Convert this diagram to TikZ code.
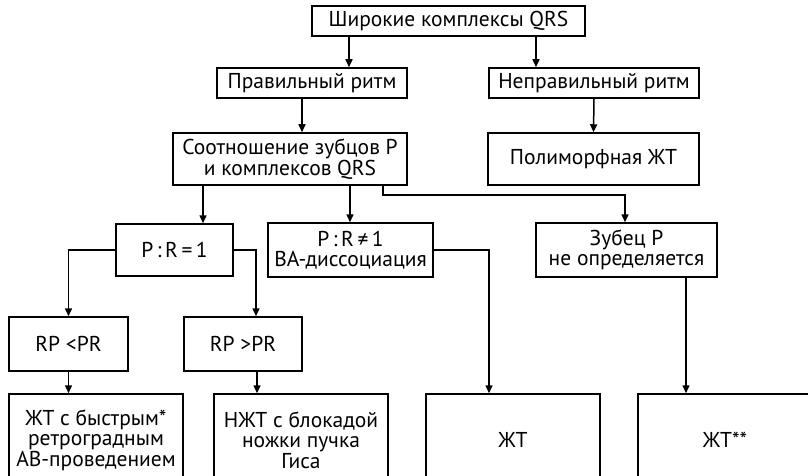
\documentclass[tikz,border=0pt]{standalone}
\usepackage{fontspec}
\setmainfont{PT Sans}
\usetikzlibrary{arrows.meta}

\tikzset{
    box/.style={draw, line width=1.5pt, align=center, inner sep=0pt,
        font=\fontsize{21.5}{20.5}\selectfont},
}

\begin{document}
\begin{tikzpicture}[x=1pt, y=-1pt, line width=1.5pt, >={Stealth[length=8pt, width=7pt, inset=0pt]}]

            \useasboundingbox (0,0) rectangle (808,476);
            \clip (0,0) rectangle (808,476);

            % top levels
            \node[box, minimum width=273, minimum height=30] (wide) at (448.5,21) {Широкие комплексы QRS};
            \node[box, minimum width=190, minimum height=30] (regular) at (312,83) {Правильный ритм};
            \node[box, minimum width=210, minimum height=30] (irregular) at (594,83) {Неправильный ритм};
            \node[box, minimum width=234, minimum height=52] (ratio) at (290,159) {Соотношение зубцов P\\и комплексов QRS};
            \node[box, minimum width=211, minimum height=52] (poly) at (593.5,159) {Полиморфная ЖТ};

            \draw[->] (wide.south -| 349,0) -- (regular.north -| 349,0);
            \draw[->] (wide.south -| 536,0) -- (irregular.north -| 536,0);
            \draw[->] (regular.south -| 302,0) -- (ratio.north -| 302,0);
            \draw[->] (irregular.south) -- (poly.north);

            % P : R
            \node[box, minimum width=117, minimum height=52] (equal) at (174.5,250) {P\,:\,R\,=\,1};
            \node[box, minimum width=165, minimum height=54] (unequal) at (350.5,250) {P\,:\,R\,≠\,1\\ВА-диссоциация};
            \node[box, minimum width=181, minimum height=54] (nop) at (626.5,250) {Зубец P\\не определяется};

            \draw[->] (ratio.south -| 203,0) -- (equal.north -| 203,0);
            \draw[->] (ratio.south -| 350,0) -- (unequal.north -| 350,0);
            \draw[->] (ratio.south -| 383,0) |- (625,195) -- (nop.north -| 625,0);

            % RP / PR
            \node[box, minimum width=119, minimum height=54] (rpless) at (68.5,344) {RP <PR};
            \node[box, minimum width=118, minimum height=54] (rpmore) at (243,344) {RP >PR};

            \draw[->] (equal.west) -| (rpless.north);
            \draw[->] (equal.east) -| (rpmore.north -| 256,0);

            % bottom row
            \node[box, minimum width=174, minimum height=92] (vtfast) at (96,440) {ЖТ с быстрым*\\ретроградным\\АВ-проведением};
            \node[box, minimum width=174, minimum height=92] (svt) at (301,440) {НЖТ с блокадой\\ножки пучка\\Гиса};
            \node[box, minimum width=174, minimum height=92] (vt) at (513,440) {ЖТ};
            \node[box, minimum width=174, minimum height=92] (vtstar) at (725,440) {ЖТ**};

            \draw[->] (rpless.south) -- (vtfast.north -| rpless.south);
            \draw[->] (rpmore.south -| 257,0) -- (svt.north -| 257,0);
            \draw[->] (unequal.east) -| (vt.north -| 489,0);
            \draw[->] (nop.south -| 686,0) -- (vtstar.north -| 686,0);

        \end{tikzpicture}
\end{document}
